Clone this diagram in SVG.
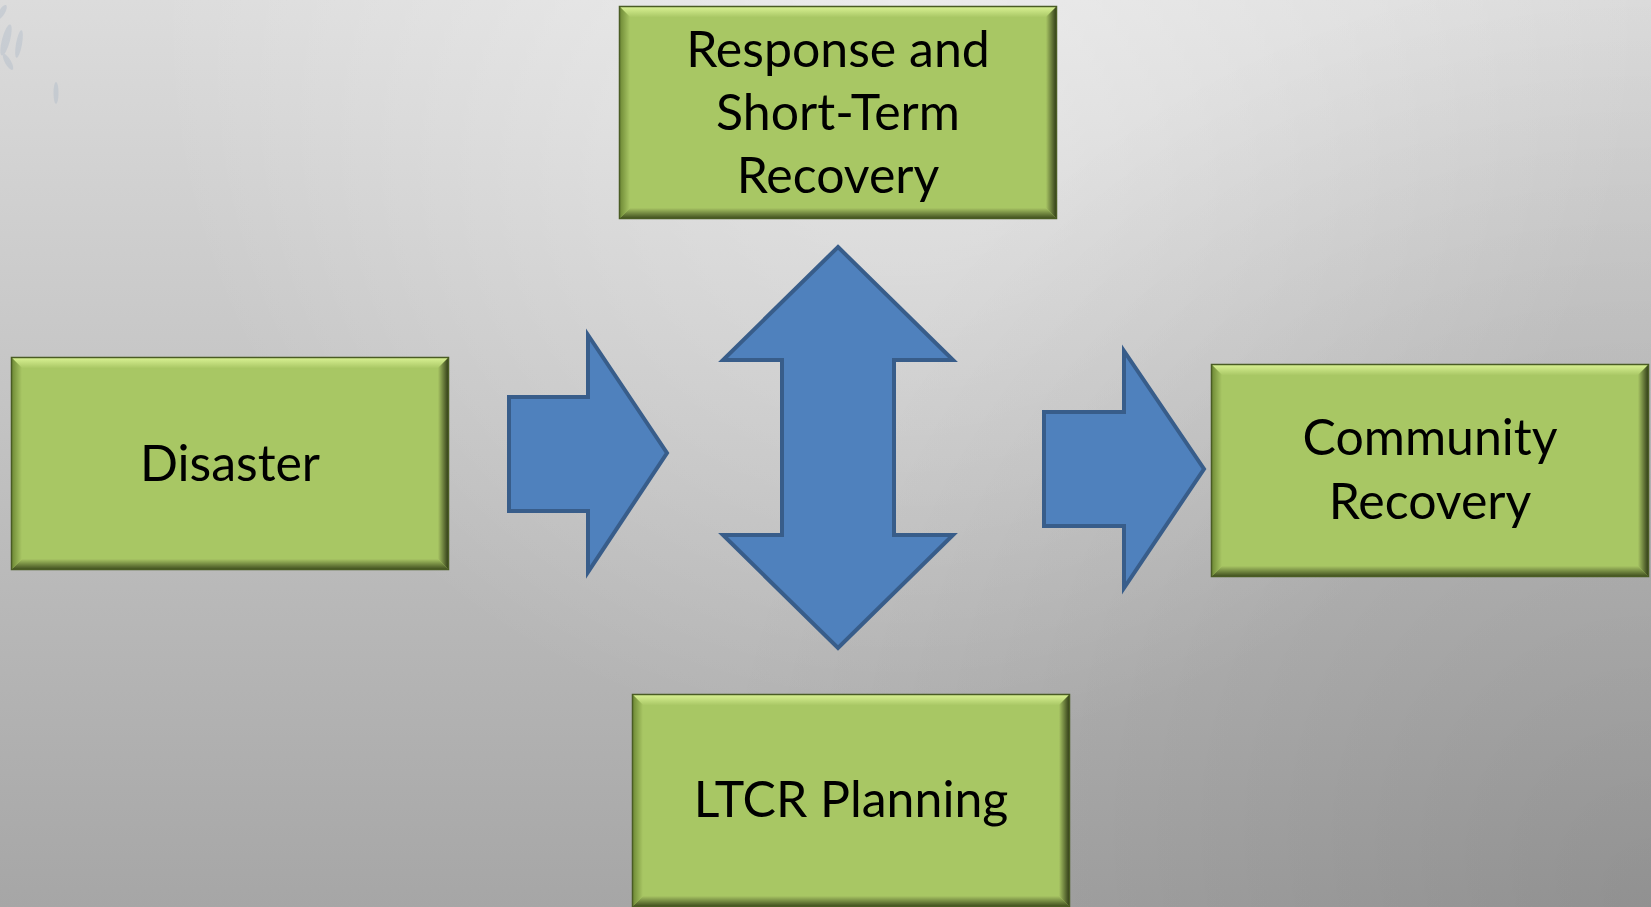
<svg xmlns="http://www.w3.org/2000/svg" xmlns:xlink="http://www.w3.org/1999/xlink" width="1651" height="907" viewBox="0 0 1651 907">
<style>
.lbl{font-family:Lato,"Open Sans","Liberation Sans",sans-serif;font-size:50px;fill:#000;text-anchor:middle}
.arrow{fill:#4F81BD;stroke:#385D8A;stroke-width:4;stroke-linejoin:miter}
</style>
<defs>
<linearGradient id="bgLin" x1="0" y1="0" x2="0" y2="1">
<stop offset="0" stop-color="#DCDCDC"/>
<stop offset="1" stop-color="#A6A6A6"/>
</linearGradient>
<radialGradient id="bgHi" gradientUnits="userSpaceOnUse" cx="900" cy="0" r="750">
<stop offset="0" stop-color="#FFFFFF" stop-opacity="0.45"/>
<stop offset="1" stop-color="#FFFFFF" stop-opacity="0"/>
</radialGradient>
<radialGradient id="bgLo" gradientUnits="userSpaceOnUse" cx="1651" cy="907" r="950">
<stop offset="0" stop-color="#000000" stop-opacity="0.13"/>
<stop offset="1" stop-color="#000000" stop-opacity="0"/>
</radialGradient>
<linearGradient id="bvTop" x1="0" y1="0" x2="0" y2="1">
<stop offset="0" stop-color="#DDF597"/>
<stop offset="1" stop-color="#AAC866"/>
</linearGradient>
<linearGradient id="bvBot" x1="0" y1="0" x2="0" y2="1">
<stop offset="0" stop-color="#A8C564"/>
<stop offset="1" stop-color="#3A481B"/>
</linearGradient>
<linearGradient id="bvRight" x1="0" y1="0" x2="1" y2="0">
<stop offset="0" stop-color="#A8C564"/>
<stop offset="1" stop-color="#2A3413"/>
</linearGradient>
<linearGradient id="bvLeft" x1="0" y1="0" x2="1" y2="0">
<stop offset="0" stop-color="#6A8532"/>
<stop offset="1" stop-color="#A9C765"/>
</linearGradient>
<g id="bevelBox">
<rect x="0" y="0" width="438" height="213" fill="#A8C764"/>
<polygon points="0,0 438,0 427,11 11,11" fill="url(#bvTop)"/>
<polygon points="0,213 11,202 427,202 438,213" fill="url(#bvBot)"/>
<polygon points="438,0 438,213 427,202 427,11" fill="url(#bvRight)"/>
<polygon points="0,0 11,11 11,202 0,213" fill="url(#bvLeft)"/>
<rect x="0.5" y="0.5" width="437" height="212" fill="none" stroke="#4A5C24" stroke-width="1.5"/>
</g>
</defs>

<g id="background">
<rect x="0" y="0" width="1651" height="907" fill="url(#bgLin)"/>
<rect x="0" y="0" width="1651" height="907" fill="url(#bgHi)"/>
<rect x="0" y="0" width="1651" height="907" fill="url(#bgLo)"/>
<g fill="#9FB0C4" opacity="0.3">
<ellipse cx="6" cy="40" rx="4" ry="16" transform="rotate(15 6 40)"/>
<ellipse cx="19" cy="44" rx="3" ry="14" transform="rotate(10 19 44)"/>
<ellipse cx="8" cy="62" rx="3" ry="9" transform="rotate(-30 8 62)"/>
<ellipse cx="56" cy="93" rx="2.5" ry="11"/>
<ellipse cx="2" cy="12" rx="3" ry="8" transform="rotate(30 2 12)"/>
</g>
</g>

<g id="connectors">
<polygon id="arrow-disaster" class="arrow" points="509,397 588,397 588,335 667,453 588,572 588,511 509,511"/>
<polygon id="arrow-both" class="arrow" points="838,247 953,360 894,360 894,535 953,535 838,648 723,535 782,535 782,360 723,360"/>
<polygon id="arrow-community" class="arrow" points="1044,412 1124,412 1124,351 1204,469 1124,588 1124,526 1044,526"/>
</g>

<g id="node-response">
<use xlink:href="#bevelBox" href="#bevelBox" x="619" y="6"/>
<text class="lbl" x="838" y="67">Response and</text>
<text class="lbl" x="838" y="130">Short-Term</text>
<text class="lbl" x="838" y="193">Recovery</text>
</g>

<g id="node-disaster">
<use xlink:href="#bevelBox" href="#bevelBox" x="11" y="357"/>
<text class="lbl" x="230" y="481">Disaster</text>
</g>

<g id="node-community">
<use xlink:href="#bevelBox" href="#bevelBox" x="1211" y="364"/>
<text class="lbl" x="1430" y="455">Community</text>
<text class="lbl" x="1430" y="519">Recovery</text>
</g>

<g id="node-ltcr">
<use xlink:href="#bevelBox" href="#bevelBox" x="632" y="694"/>
<text class="lbl" x="851" y="817">LTCR Planning</text>
</g>
</svg>
